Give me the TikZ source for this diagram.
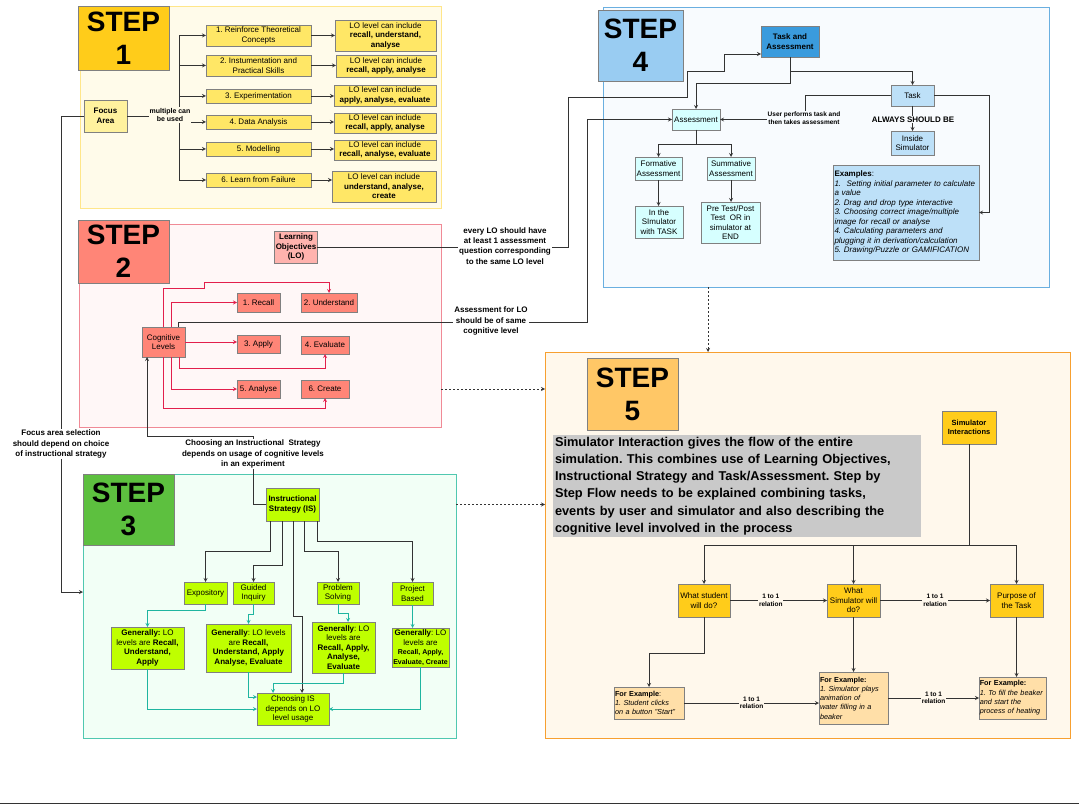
\documentclass[tikz,border=0pt]{standalone}
\usepackage{fontspec}
\setmainfont{Liberation Sans}
\usetikzlibrary{arrows}
\frenchspacing

\definecolor{panelone}{HTML}{FFFBEA}
\definecolor{edgeone}{HTML}{FFE68A}
\definecolor{gold}{HTML}{FFCC1A}
\definecolor{lightyellow}{HTML}{FFE766}
\definecolor{focusyellow}{HTML}{FFF29E}
\definecolor{paneltwo}{HTML}{FFF7F7}
\definecolor{edgetwo}{HTML}{F08A96}
\definecolor{salmon}{HTML}{FF8577}
\definecolor{pinklo}{HTML}{FFB3AE}
\definecolor{crimson}{HTML}{E21F4C}
\definecolor{panelthree}{HTML}{F2FFF6}
\definecolor{edgethree}{HTML}{50C8B0}
\definecolor{stepgreen}{HTML}{5DC03F}
\definecolor{lime}{HTML}{BFFF00}
\definecolor{tealc}{HTML}{1FB5A0}
\definecolor{panelfour}{HTML}{F8FBFE}
\definecolor{edgefour}{HTML}{6AAFE0}
\definecolor{stepblue}{HTML}{99CCF2}
\definecolor{midblue}{HTML}{3A9BDD}
\definecolor{paleblue}{HTML}{BDE0F8}
\definecolor{palecyan}{HTML}{D6FFFF}
\definecolor{panelfive}{HTML}{FFF8EC}
\definecolor{edgefive}{HTML}{F7A030}
\definecolor{steporange}{HTML}{FFC766}
\definecolor{peach}{HTML}{FFDFA8}
\definecolor{descgray}{HTML}{C9C9C9}

\begin{document}
\begin{tikzpicture}[x=1pt,y=-1pt,>=stealth,
  font=\fontsize{8}{9.5}\selectfont,
  box/.style={draw=black!50, line width=0.8pt, inner sep=1pt, outer sep=0pt, align=center},
  wh/.style 2 args={minimum width=#1pt, minimum height=#2pt},
  panel/.style={line width=0.8pt, inner sep=0pt, outer sep=0pt},
  steplabel/.style={box, font=\fontsize{28}{33}\selectfont\bfseries},
  example/.style={box, fill=peach, align=left, inner sep=1pt, font=\fontsize{7.3}{9.3}\selectfont},
  line/.style={draw=black!80, line width=0.8pt},
  redline/.style={draw=crimson, line width=0.8pt},
  tealline/.style={draw=tealc, line width=0.8pt},
  note/.style={font=\fontsize{6.5}{7.5}\selectfont\bfseries, align=center, inner sep=1pt},
  remark/.style={font=\fontsize{8}{10.2}\selectfont\bfseries, align=center, inner sep=1pt, fill=white}]

  \useasboundingbox (0,0) rectangle (1079,805);

  %% Panels
  \node[panel, draw=edgeone, fill=panelone, wh={361}{202}] (stepone) at (260.5,107) {};
  \node[panel, draw=edgetwo, fill=paneltwo, wh={362}{203}] (steptwo) at (260,325.5) {};
  \node[panel, draw=edgethree, fill=panelthree, wh={373}{264}] (stepthree) at (269.5,606) {};
  \node[panel, draw=edgefour, fill=panelfour, wh={446}{280}] (stepfour) at (826,147) {};
  \node[panel, draw=edgefive, fill=panelfive, wh={525}{386}] (stepfive) at (807.5,545) {};

  \node[steplabel, fill=gold, wh={91}{64}] (sone) at (123.5,38) {STEP\\1};
  \node[steplabel, fill=salmon, wh={91}{63}] (stwo) at (123.5,251.5) {STEP\\2};
  \node[steplabel, fill=stepgreen, wh={91}{71}] (sthree) at (128.5,509.5) {STEP\\3};
  \node[steplabel, fill=stepblue, wh={85}{71}] (sfour) at (640.5,45.5) {STEP\\4};
  \node[steplabel, fill=steporange, wh={91}{72}] (sfive) at (632.5,394) {STEP\\5};

  %% Step 1: focus area
  \node[box, fill=focusyellow, wh={43}{32}, font=\fontsize{8}{9.5}\selectfont\bfseries] (focus) at (105.5,116) {Focus\\Area};
  \node[box, fill=lightyellow, wh={105}{21}] (rc1) at (258.5,35.5) {1. Reinforce Theoretical\\Concepts};
  \node[box, fill=lightyellow, wh={105}{21}] (rc2) at (258.5,65.5) {2. Instumentation and\\Practical Skills};
  \node[box, fill=lightyellow, wh={105}{14}] (rc3) at (258.5,96) {3. Experimentation};
  \node[box, fill=lightyellow, wh={105}{14}] (rc4) at (258.5,122) {4. Data Analysis};
  \node[box, fill=lightyellow, wh={105}{14}] (rc5) at (258.5,149) {5. Modelling};
  \node[box, fill=lightyellow, wh={105}{14}] (rc6) at (258.5,180) {6. Learn from Failure};

  \node[box, fill=lightyellow, wh={101}{31}] (lo1) at (385.5,35.5) {LO level can include\\\textbf{recall, understand,}\\\textbf{analyse}};
  \node[box, fill=lightyellow, wh={100}{22}] (lo2) at (386,66) {LO level can include\\\textbf{recall, apply, analyse}};
  \node[box, fill=lightyellow, wh={102}{21}] (lo3) at (385,95.5) {LO level can include\\\textbf{apply, analyse, evaluate}};
  \node[box, fill=lightyellow, wh={102}{20}] (lo4) at (385,123) {LO level can include\\\textbf{recall, apply, analyse}};
  \node[box, fill=lightyellow, wh={102}{20}] (lo5) at (385,150) {LO level can include\\\textbf{recall, analyse, evaluate}};
  \node[box, fill=lightyellow, wh={104}{31}] (lo6) at (384,186.5) {LO level can include\\\textbf{understand, analyse,}\\\textbf{create}};

  \coordinate (bus) at (179,35.5);
  \draw[line] (bus) -- (bus |- rc6);
  \draw[line] (focus.east) -- (bus |- focus.east);
  \foreach \i in {1,...,6} {
    \draw[line,->] (bus |- rc\i) -- (rc\i.west);
    \draw[line,->] (rc\i.east) -- (rc\i.east -| lo\i.west);
  }
  \node[note, fill=panelone, font=\fontsize{7}{8.5}\selectfont\bfseries] at (170,115) {multiple can\\be used};

  %% Step 2: cognitive levels
  \node[box, fill=pinklo, wh={42}{32}, font=\fontsize{8}{9.5}\selectfont\bfseries] (lo) at (296,247) {Learning\\Objectives\\(LO)};
  \node[box, fill=salmon, wh={43}{30}] (cog) at (163.5,342) {Cognitive\\Levels};
  \node[box, fill=salmon, wh={43}{19}] (recall) at (258.5,302.5) {1. Recall};
  \node[box, fill=salmon, wh={56}{19}] (underst) at (329,302.5) {2. Understand};
  \node[box, fill=salmon, wh={43}{18}] (apply) at (258.5,344) {3. Apply};
  \node[box, fill=salmon, wh={48}{18}] (evaluate) at (325,345) {4. Evaluate};
  \node[box, fill=salmon, wh={43}{18}] (analyse) at (258.5,389) {5. Analyse};
  \node[box, fill=salmon, wh={48}{18}] (create) at (325,389) {6. Create};

  \draw[redline,->] (cog.north) -- ++(0,-39) -| (204,282) -| (underst.north);
  \draw[redline,->] ([xshift=7.5pt]cog.north) |- (recall.west);
  \draw[redline,->] (cog.east) -- (cog.east -| apply.west);
  \draw[redline,->] ([xshift=15.5pt]cog.south) -- ++(0,11) -| (evaluate.south);
  \draw[redline,->] ([xshift=7.5pt]cog.south) |- (analyse.west);
  \draw[redline,->] (cog.south) -- ++(0,51) -| (create.south);

  %% Step 3: instructional strategy
  \node[box, fill=lime, wh={53}{33}, font=\fontsize{8}{9.5}\selectfont\bfseries] (is) at (292.5,504.5) {Instructional\\Strategy (IS)};
  \node[box, fill=lime, wh={43}{22}] (expo) at (205.5,593) {Expository};
  \node[box, fill=lime, wh={41}{22}] (guided) at (253.5,593) {Guided\\Inquiry};
  \node[box, fill=lime, wh={42}{22}] (problem) at (338,593) {Problem\\Solving};
  \node[box, fill=lime, wh={41}{23}] (project) at (412.5,593.5) {Project\\Based};
  \node[box, fill=lime, wh={73}{42}] (gone) at (147.5,648) {\textbf{Generally:} LO\\levels are \textbf{Recall,}\\\textbf{Understand,}\\\textbf{Apply}};
  \node[box, fill=lime, wh={85}{48}] (gtwo) at (248.5,648) {\textbf{Generally}: LO levels\\are \textbf{Recall,}\\\textbf{Understand, Apply}\\\textbf{Analyse, Evaluate}};
  \node[box, fill=lime, wh={63}{51}] (gthree) at (343.5,647.5) {\textbf{Generally}: LO\\levels are\\\textbf{Recall, Apply,}\\\textbf{Analyse,}\\\textbf{Evaluate}};
  \node[box, fill=lime, wh={57}{39}] (gfour) at (420.5,647.5) {\textbf{Generally}: LO\\levels are\\{\fontsize{7}{9}\selectfont\textbf{Recall, Apply,}}\\{\fontsize{7}{9}\selectfont\textbf{Evaluate, Create}}};
  \node[box, fill=lime, wh={72}{32}] (chois) at (293,709) {Choosing IS\\depends on LO\\level usage};

  \draw[line,->] ([xshift=-22.5pt]is.south) -- ++(0,30) -| (expo.north);
  \draw[line,->] ([xshift=-10.5pt]is.south) -- ++(0,44) -| (guided.north);
  \draw[line,->] ([xshift=0.5pt]is.south) -- ++(0,95) -| ([xshift=9pt]chois.north);
  \draw[line,->] ([xshift=11.5pt]is.south) -- ++(0,30) -| (problem.north);
  \draw[line,->] ([xshift=24.5pt]is.south) -- ++(0,20) -| (project.north);

  \draw[tealline,->] (expo.south) -- ++(0,6) -| (gone.north);
  \draw[tealline,->] (guided.south) -- ++(0,10) -| (gtwo.north);
  \draw[tealline,->] (problem.south) -- ++(0,9) -| ([xshift=4.5pt]gthree.north);
  \draw[tealline,->] (project.south) -- (project.south |- gfour.north);
  \draw[tealline,->] (gone.south) |- (chois.west);
  \draw[tealline,->] (gtwo.south) |- ([yshift=12pt]chois.west);
  \draw[tealline,->] (gthree.south) -- ++(0,10) -| ([xshift=-20pt]chois.north);
  \draw[tealline,->] (gfour.south) |- (chois.east);

  %% Step 4: task and assessment
  \node[box, fill=midblue, wh={58}{31}, font=\fontsize{8}{9.5}\selectfont\bfseries] (ta) at (790,41.5) {Task and\\Assessment};
  \node[box, fill=paleblue, wh={43}{21}] (task) at (912.5,95.5) {Task};
  \node[box, fill=palecyan, wh={48}{21}] (assess) at (696,119.5) {Assessment};
  \node[box, fill=paleblue, wh={43}{24}] (inside) at (912.5,143) {Inside\\Simulator};
  \node[box, fill=palecyan, wh={47}{23}] (form) at (658.5,168.5) {Formative\\Assessment};
  \node[box, fill=palecyan, wh={48}{23}] (summ) at (731,168.5) {Summative\\Assessment};
  \node[box, fill=palecyan, wh={48}{32}] (insim) at (659,222) {In the\\SImulator\\with TASK};
  \node[box, fill=palecyan, wh={59}{41}] (pretest) at (730.5,222.5) {Pre Test/Post\\Test\ \ OR in\\simulator at\\END};
  \node[box, fill=paleblue, wh={146}{95}, text width=143pt, inner sep=1.5pt, align=left] (examples) at (906,212.5) {\textbf{Examples}:\\\textit{1.\ \ Setting initial parameter to calculate}\\\textit{a value}\\\textit{2. Drag and drop type interactive}\\\textit{3. Choosing correct image/multiple}\\\textit{image for recall or analyse}\\\textit{4. Calculating parameters and}\\\textit{plugging it in derivation/calculation}\\\textit{5. Drawing/Puzzle or GAMIFICATION}};

  \draw[line,->] (ta.south) -- ++(0,26) -| (assess.north);
  \draw[line,->] (ta.south) -- ++(0,14) -| (task.north);
  \draw[line,->] (task.west) -| (805,119.5) -- (assess.east);
  \draw[line,->] (task.south) -- (inside.north);
  \draw[line,->] (task.east) -- ++(55,0) |- (examples.east);
  \draw[line,->] (assess.south) -- ++(0,14) -| (form.north);
  \draw[line,->] (assess.south) -- ++(0,14) -| (summ.north);
  \draw[line,->] (form.south) -- (form.south |- insim.north);
  \draw[line,->] (summ.south) -- (summ.south |- pretest.north);
  \node[note, fill=panelfour] at (804,118) {User performs task and\\then takes assessment};
  \node[note, fill=panelfour, font=\fontsize{8}{9.5}\selectfont\bfseries] at (913,119.5) {ALWAYS SHOULD BE};

  %% Step 5: simulator interactions
  \node[box, fill=descgray, draw=none, wh={368}{102}, text width=364pt, inner sep=2pt, align=left,
    font=\fontsize{12.8}{17.2}\selectfont\bfseries] (desc) at (737,486) {Simulator Interaction gives the flow of the entire\\simulation. This combines use of Learning Objectives,\\Instructional Strategy and Task/Assessment. Step by\\Step Flow needs to be explained combining tasks,\\events by user and simulator and also describing the\\cognitive level involved in the process};
  \node[box, fill=gold, wh={54}{33}, font=\fontsize{7.5}{9.5}\selectfont\bfseries] (si) at (969,427.5) {Simulator\\Interactions};
  \node[box, fill=gold, wh={52}{33}] (ws) at (704,600.5) {What student\\will do?};
  \node[box, fill=gold, wh={53}{33}] (wsim) at (853.5,600.5) {What\\Simulator will\\do?};
  \node[box, fill=gold, wh={53}{33}] (purpose) at (1016.5,600.5) {Purpose of\\the Task};
  \node[example, wh={70}{32}, text width=68pt] (fone) at (649,703) {\textbf{For Example}:\\\textit{1. Student clicks}\\\textit{on a button "Start"}};
  \node[example, wh={69}{52}, text width=67pt] (ftwo) at (853.5,698) {\textbf{For Example:}\\\textit{1. Simulator plays}\\\textit{animation of}\\\textit{water filling in a}\\\textit{beaker}};
  \node[example, wh={67}{42}, text width=65.5pt, inner sep=0.75pt] (fthree) at (1012.5,698) {\textbf{For Example:}\\\textit{1. To fill the beaker}\\\textit{and start the}\\\textit{process of heating}};

  \draw[line,->] (si.south) -- ++(0,101) -| (ws.north);
  \draw[line,->] (si.south) -- ++(0,101) -| (wsim.north);
  \draw[line,->] (si.south) -- ++(0,101) -| (purpose.north);
  \draw[line,->] (ws.east) -- (wsim.west) node[note, fill=panelfive, pos=0.42] {1 to 1\\relation};
  \draw[line,->] (wsim.east) -- (purpose.west) node[note, fill=panelfive, pos=0.5] {1 to 1\\relation};
  \draw[line,->] (ws.south) -- ++(0,36) -| (fone.north);
  \draw[line,->] (wsim.south) -- (ftwo.north);
  \draw[line,->] (purpose.south) -- (purpose.south |- fthree.north);
  \draw[line,->] (fone.east) -- (fone.east -| ftwo.west) node[note, fill=panelfive, pos=0.5] {1 to 1\\relation};
  \draw[line,->] (ftwo.east) -- (fthree.west) node[note, fill=panelfive, pos=0.5] {1 to 1\\relation};

  %% Links between steps
  \draw[line,->] (focus.west) -- ++(-23,0) |- ([yshift=14pt]stepthree.west);
  \draw[line,->] (is.west) -| (253,436) -| ([xshift=-16.5pt]cog.south);
  \draw[line,->] (lo.east) -- (568,247) -- (568,97) -- (687,97) -- (687,71) -- (724,71) |- ([yshift=-12.5pt]ta.west);
  \draw[line,->] ([xshift=14.5pt]cog.north) -- ++(0,-5) -- (587,322) |- (assess.west);
  \node[remark] at (61,444) {Focus area selection\\should depend on choice\\of instructional strategy};
  \node[remark] at (253,454) {Choosing an Instructional\ \ Strategy\\depends on usage of cognitive levels\\in an experiment};
  \node[remark] at (505,246) {every LO should have\\at least 1 assessment\\question corresponding\\to the same LO level};
  \node[remark] at (491,321) {Assessment for LO\\should be of same\\cognitive level};

  \coordinate (fourout) at (708,287);
  \draw[line,dash pattern=on 2pt off 2pt,->] (fourout) -- (fourout |- stepfive.north);
  \draw[line,dash pattern=on 2pt off 2pt,->] (steptwo.east |- analyse) -- (stepfive.west |- analyse);
  \draw[line,dash pattern=on 2pt off 2pt,->] (stepthree.east |- is) -- (stepfive.west |- is);

  \draw[line width=1.2pt, black!80] (0,803.5) -- (1079,803.5);

\end{tikzpicture}
\end{document}
